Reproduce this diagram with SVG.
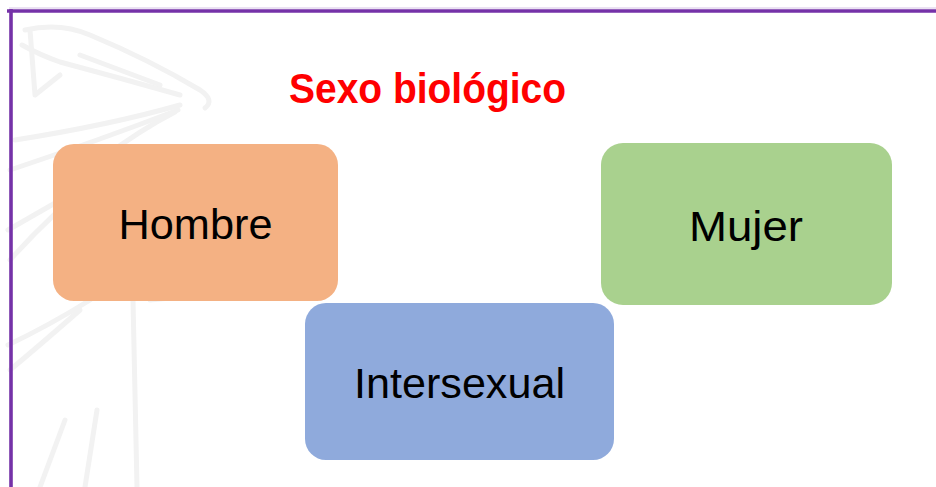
<svg xmlns="http://www.w3.org/2000/svg" width="936" height="487" viewBox="0 0 936 487">
<style>
.node rect{stroke:none}
.lbl{font-family:"Liberation Sans",Arial,sans-serif;font-size:43px;fill:#000;text-anchor:middle}
.title{font-family:"Liberation Sans",Arial,sans-serif;font-size:42px;font-weight:bold;fill:#ff0000}
.wm{fill:none;stroke:#f2f2f2;stroke-width:5;stroke-linecap:round;stroke-linejoin:round}
</style>
<rect x="0" y="0" width="936" height="487" fill="#ffffff"/>
<g id="watermark">
<path class="wm" d="M25 30 Q60 22 90 35 Q150 60 200 90 Q215 100 205 108"/>
<path class="wm" d="M22 45 Q40 55 60 62 Q120 78 180 95"/>
<path class="wm" d="M30 30 L35 95 L60 75"/>
<path class="wm" d="M80 55 Q120 70 160 85"/>
<path class="wm" d="M180 105 Q110 125 15 140"/>
<path class="wm" d="M178 110 Q100 140 10 170"/>
<path class="wm" d="M175 112 Q140 130 100 160"/>
<path class="wm" d="M110 172 Q60 200 8 230"/>
<path class="wm" d="M100 175 Q50 215 10 260"/>
<path class="wm" d="M90 300 Q50 325 8 345"/>
<path class="wm" d="M80 310 Q40 345 10 370"/>
<path class="wm" d="M133 300 L137 487"/>
<path class="wm" d="M97 410 L85 487"/>
<path class="wm" d="M65 420 L40 487"/>
<path class="wm" d="M150 300 L170 298"/>
</g>
<g id="frame">
<line x1="7" y1="11" x2="936" y2="11" stroke="#7532a8" stroke-width="3.6"/>
<line x1="11" y1="9" x2="11" y2="487" stroke="#7532a8" stroke-width="3.6"/>
<line x1="9" y1="8" x2="936" y2="8" stroke="#d6c4e6" stroke-width="1"/>
</g>
<g id="title">
<text class="title" x="289" y="103" textLength="277" lengthAdjust="spacingAndGlyphs">Sexo biológico</text>
</g>
<g id="connectors"></g>
<g id="hombre" class="node">
<rect x="53" y="144" width="285" height="157" rx="21" fill="#f4b183"/>
<text class="lbl" x="195.5" y="239" textLength="154" lengthAdjust="spacingAndGlyphs">Hombre</text>
</g>
<g id="mujer" class="node">
<rect x="601" y="143" width="291" height="162" rx="22" fill="#a9d18e"/>
<text class="lbl" x="746" y="241" textLength="114" lengthAdjust="spacingAndGlyphs">Mujer</text>
</g>
<g id="intersexual" class="node">
<rect x="305" y="303" width="309" height="157" rx="21" fill="#8faadc"/>
<text class="lbl" x="459.5" y="398" textLength="211" lengthAdjust="spacingAndGlyphs">Intersexual</text>
</g>
</svg>
